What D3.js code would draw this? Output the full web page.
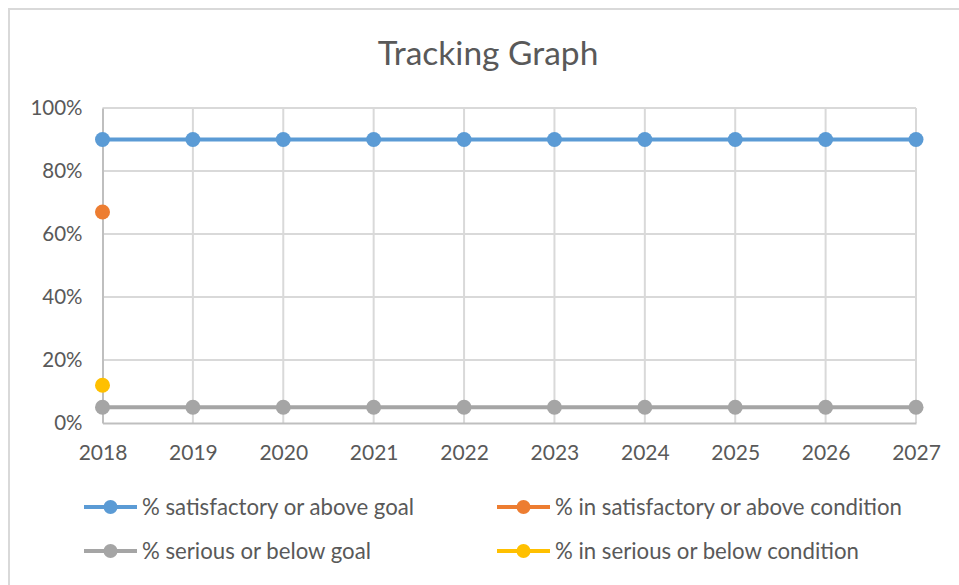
<!DOCTYPE html>
<html>
<head>
<meta charset="utf-8">
<script src="https://cdn.jsdelivr.net/npm/d3@7"></script>
<style>
  html, body { margin: 0; padding: 0; background: #fff; }
  svg { display: block; font-family: Lato, "Open Sans", sans-serif; }
</style>
</head>
<body>
<svg id="chart" width="959" height="585"></svg>
<script>
// Years on the category axis
const years = ["2018", "2019", "2020", "2021", "2022", "2023", "2024", "2025", "2026", "2027"];

// Series values (fractions); null where no measurement exists yet
const satisfactoryGoal = [0.90, 0.90, 0.90, 0.90, 0.90, 0.90, 0.90, 0.90, 0.90, 0.90];
const satisfactoryCondition = [0.67, null, null, null, null, null, null, null, null, null];
const seriousGoal = [0.05, 0.05, 0.05, 0.05, 0.05, 0.05, 0.05, 0.05, 0.05, 0.05];
const seriousCondition = [0.12, null, null, null, null, null, null, null, null, null];

const yTicks = [0, 0.2, 0.4, 0.6, 0.8, 1.0];

const seriesNames = [
  "% satisfactory or above goal",
  "% in satisfactory or above condition",
  "% serious or below goal",
  "% in serious or below condition"
];
const seriesColors = ["#5b9bd5", "#ed7d31", "#a5a5a5", "#ffc000"];

const series = [
  { name: seriesNames[0], color: seriesColors[0], values: satisfactoryGoal },
  { name: seriesNames[1], color: seriesColors[1], values: satisfactoryCondition },
  { name: seriesNames[2], color: seriesColors[2], values: seriousGoal },
  { name: seriesNames[3], color: seriesColors[3], values: seriousCondition }
];

const svg = d3.select("#chart");
const W = 959, H = 585;
const plot = { left: 102.5, right: 916, top: 108, bottom: 423 };
const textColor = "#595959";

// Chart frame (only top and left edges fall inside the view)
svg.append("path")
  .attr("d", `M9,${H + 5} L9,9 L${W + 5},9`)
  .attr("fill", "none")
  .attr("stroke", "#d9d9d9")
  .attr("stroke-width", 2);

// Title
svg.append("text")
  .attr("x", 488)
  .attr("y", 65)
  .attr("text-anchor", "middle")
  .attr("fill", textColor)
  .attr("font-size", 33.5)
  .text("Tracking Graph");

const x = d3.scalePoint().domain(years).range([plot.left, plot.right]);
const y = d3.scaleLinear().domain([0, 1]).range([plot.bottom, plot.top]);

// Horizontal gridlines
svg.append("g")
  .selectAll("line")
  .data(yTicks.filter(t => t > 0))
  .join("line")
  .attr("x1", plot.left).attr("x2", plot.right)
  .attr("y1", d => y(d)).attr("y2", d => y(d))
  .attr("stroke", "#d9d9d9").attr("stroke-width", 2);

// Vertical gridlines
svg.append("g")
  .selectAll("line")
  .data(years.slice(1))
  .join("line")
  .attr("x1", d => x(d)).attr("x2", d => x(d))
  .attr("y1", plot.top).attr("y2", plot.bottom)
  .attr("stroke", "#d9d9d9").attr("stroke-width", 2);

// Y axis
const yAxis = svg.append("g")
  .attr("transform", `translate(${plot.left},0)`)
  .call(d3.axisLeft(y).tickValues(yTicks).tickFormat(d3.format(".0%")).tickSize(0).tickPadding(20));
yAxis.select(".domain").attr("stroke", "#bfbfbf").attr("stroke-width", 2);
yAxis.selectAll("text")
  .attr("fill", textColor)
  .attr("font-size", 20.5)
  .attr("font-family", "Lato, 'Open Sans', sans-serif");

// X axis
const xAxis = svg.append("g")
  .attr("transform", `translate(0,${plot.bottom})`)
  .call(d3.axisBottom(x).tickSize(0).tickPadding(22));
xAxis.select(".domain").attr("stroke", "#bfbfbf").attr("stroke-width", 2);
xAxis.selectAll("text")
  .attr("fill", textColor)
  .attr("font-size", 21)
  .attr("font-family", "Lato, 'Open Sans', sans-serif");

// Series lines and markers
const line = d3.line()
  .defined(d => d != null)
  .x((d, i) => x(years[i]))
  .y(d => y(d));

const drawOrder = [0, 2, 1, 3];
drawOrder.forEach(k => {
  const s = series[k];
  svg.append("path")
    .datum(s.values)
    .attr("fill", "none")
    .attr("stroke", s.color)
    .attr("stroke-width", 4)
    .attr("d", line);
  svg.append("g")
    .selectAll("circle")
    .data(s.values.map((v, i) => ({ v, i })).filter(d => d.v != null))
    .join("circle")
    .attr("cx", d => x(years[d.i]))
    .attr("cy", d => y(d.v))
    .attr("r", 7.5)
    .attr("fill", s.color);
});

// Legend: two rows, two columns
const legendPos = [
  { x: 84, y: 507 },
  { x: 497, y: 507 },
  { x: 84, y: 551 },
  { x: 497, y: 551 }
];
series.forEach((s, k) => {
  const p = legendPos[k];
  const g = svg.append("g").attr("transform", `translate(${p.x},${p.y})`);
  g.append("line")
    .attr("x1", 0).attr("x2", 53).attr("y1", 0).attr("y2", 0)
    .attr("stroke", s.color).attr("stroke-width", 4);
  g.append("circle").attr("cx", 26.5).attr("cy", 0).attr("r", 7).attr("fill", s.color);
  g.append("text")
    .attr("x", 58)
    .attr("y", 0)
    .attr("dy", "0.35em")
    .attr("fill", textColor)
    .attr("font-size", 22.2)
    .text(s.name);
});
</script>
</body>
</html>
